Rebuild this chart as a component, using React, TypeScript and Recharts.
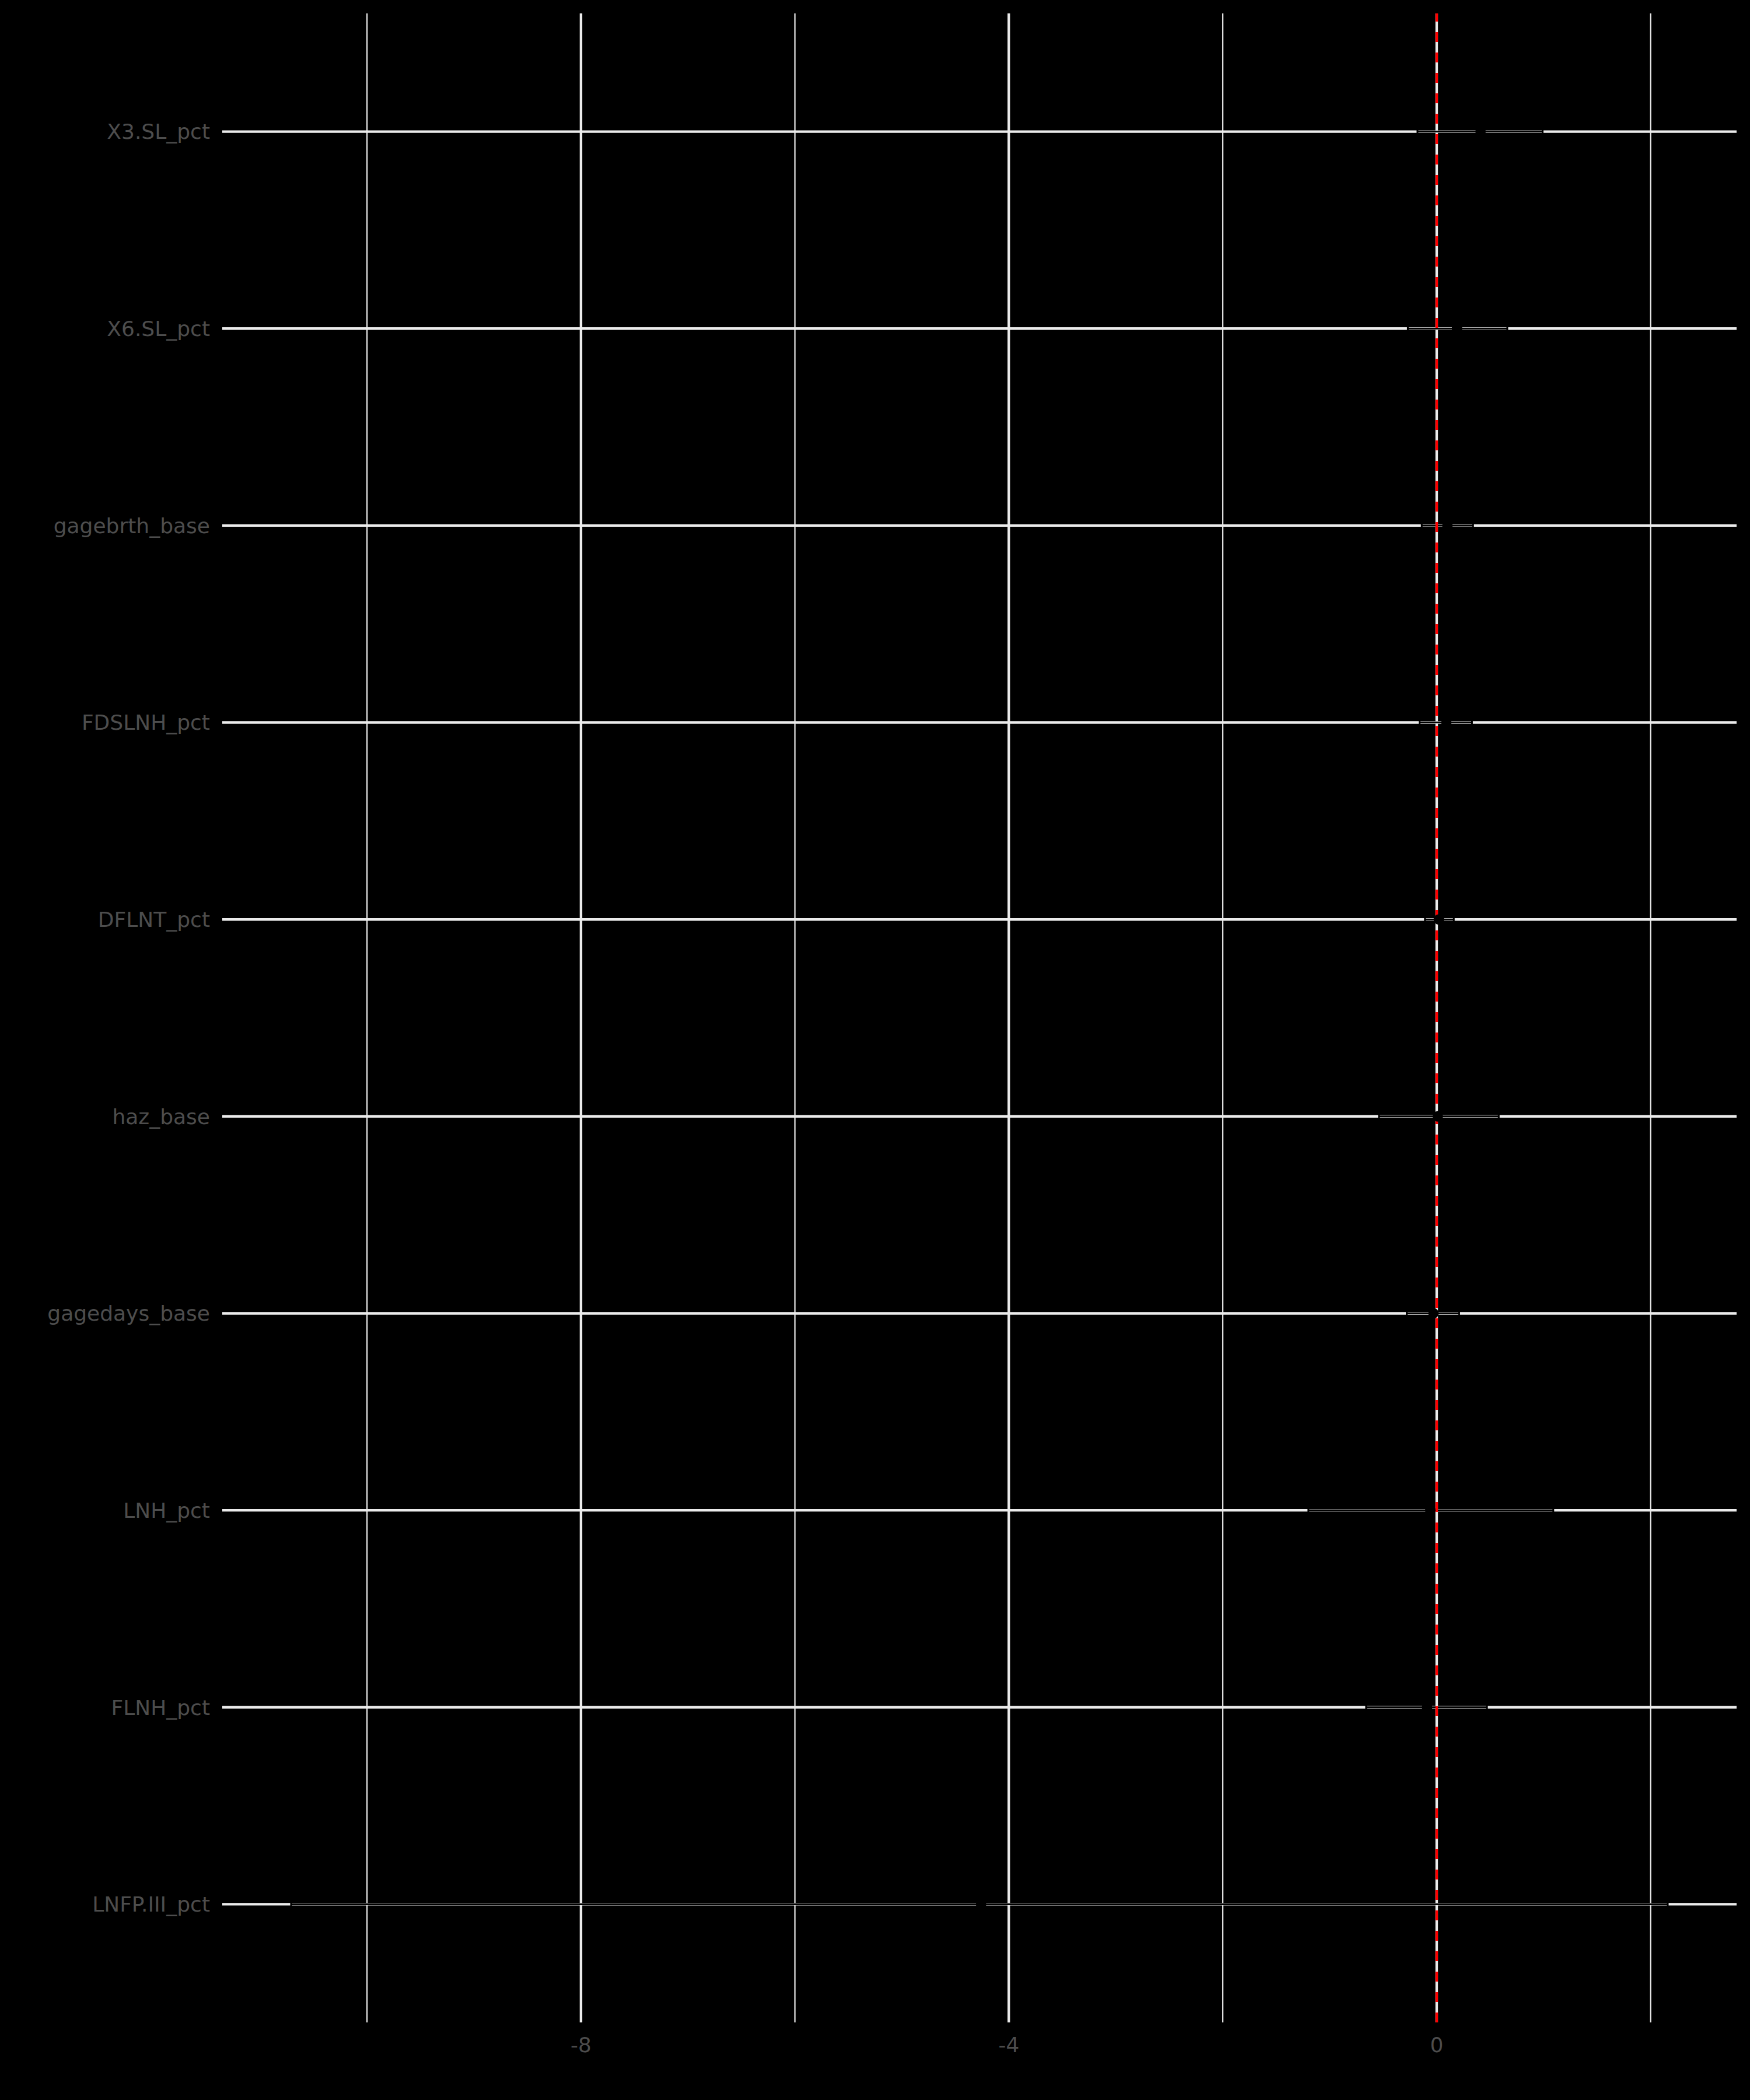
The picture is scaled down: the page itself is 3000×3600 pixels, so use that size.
import React from "react";
import {
  ComposedChart,
  Scatter,
  XAxis,
  YAxis,
  CartesianGrid,
  ReferenceLine,
  ErrorBar,
} from "recharts";

const categories = [
  "X3.SL_pct",
  "X6.SL_pct",
  "gagebrth_base",
  "FDSLNH_pct",
  "DFLNT_pct",
  "haz_base",
  "gagedays_base",
  "LNH_pct",
  "FLNH_pct",
  "LNFP.III_pct",
];
const estimates = [0.41, 0.19, 0.1, 0.09, 0.02, 0.01, -0.03, -0.06, -0.09, -4.26];
const lows = [-0.18, -0.27, -0.14, -0.16, -0.11, -0.54, -0.28, -1.2, -0.66, -10.71];
const highs = [0.99, 0.66, 0.34, 0.33, 0.16, 0.58, 0.21, 1.09, 0.47, 2.16];
const majorBreaks = [-8, -4, 0];
const minorBreaks = [-10, -6, -2, 2];

const rowIndex = categories.map((_, i) => i + 1);

const data = categories.map((name, i) => ({
  name,
  x: estimates[i],
  y: rowIndex[i],
  err: [estimates[i] - lows[i], highs[i] - estimates[i]],
}));

const lo = Math.min(...lows);
const hi = Math.max(...highs);
const span = hi - lo;
const xDomain = [lo - 0.05 * span, hi + 0.05 * span];

const W = 3000;
const H = 3600;
const GRID = "#EBEBEB";
const TEXT = "#4D4D4D";
const FONT = "DejaVu Sans";

const tickStyle = { fill: TEXT, fontSize: 36, fontFamily: FONT };

const Dot = (props: any) => {
  const { cx, cy } = props;
  if (cx == null || cy == null) return <g />;
  return <circle cx={cx} cy={cy} r={9} fill="#000000" />;
};

const Empty = () => <g />;

export default function App() {
  return (
    <div
      style={{
        position: "absolute",
        left: 0,
        top: 0,
        width: W,
        height: H,
        background: "#000000",
      }}
    >
      <ComposedChart
        width={W}
        height={H}
        data={data}
        margin={{ top: 23, right: 23, left: 0, bottom: 0 }}
      >
        <XAxis
          xAxisId="minor"
          type="number"
          dataKey="x"
          domain={xDomain}
          allowDataOverflow
          ticks={minorBreaks}
          interval={0}
          hide
        />
        <XAxis
          xAxisId="main"
          type="number"
          dataKey="x"
          domain={xDomain}
          allowDataOverflow
          ticks={majorBreaks}
          interval={0}
          height={133}
          axisLine={false}
          tickLine={false}
          tickSize={0}
          tickMargin={25}
          tick={tickStyle}
        />
        <YAxis
          type="number"
          dataKey="y"
          domain={[0.4, 10.6]}
          reversed
          allowDataOverflow
          ticks={rowIndex}
          interval={0}
          width={381}
          axisLine={false}
          tickLine={false}
          tickSize={0}
          tickMargin={21}
          tick={tickStyle}
          tickFormatter={(v: number) => categories[v - 1] ?? ""}
        />
        <CartesianGrid
          xAxisId="minor"
          horizontal={false}
          vertical
          syncWithTicks
          stroke={GRID}
          strokeWidth={2.2}
        />
        <CartesianGrid
          xAxisId="main"
          horizontal
          vertical
          syncWithTicks
          stroke={GRID}
          strokeWidth={4.4}
        />
        <Scatter
          xAxisId="main"
          dataKey="x"
          data={data}
          shape={Empty}
          isAnimationActive={false}
        >
          <ErrorBar
            dataKey="err"
            direction="x"
            width={6}
            stroke="#000000"
            strokeWidth={3}
            isAnimationActive={false}
          />
        </Scatter>
        <ReferenceLine
          xAxisId="main"
          x={0}
          stroke="#FF0000"
          strokeWidth={4.3}
          strokeDasharray="17 18"
        />
        <Scatter
          xAxisId="main"
          dataKey="x"
          data={data}
          shape={Dot}
          isAnimationActive={false}
        />
      </ComposedChart>
    </div>
  );
}
